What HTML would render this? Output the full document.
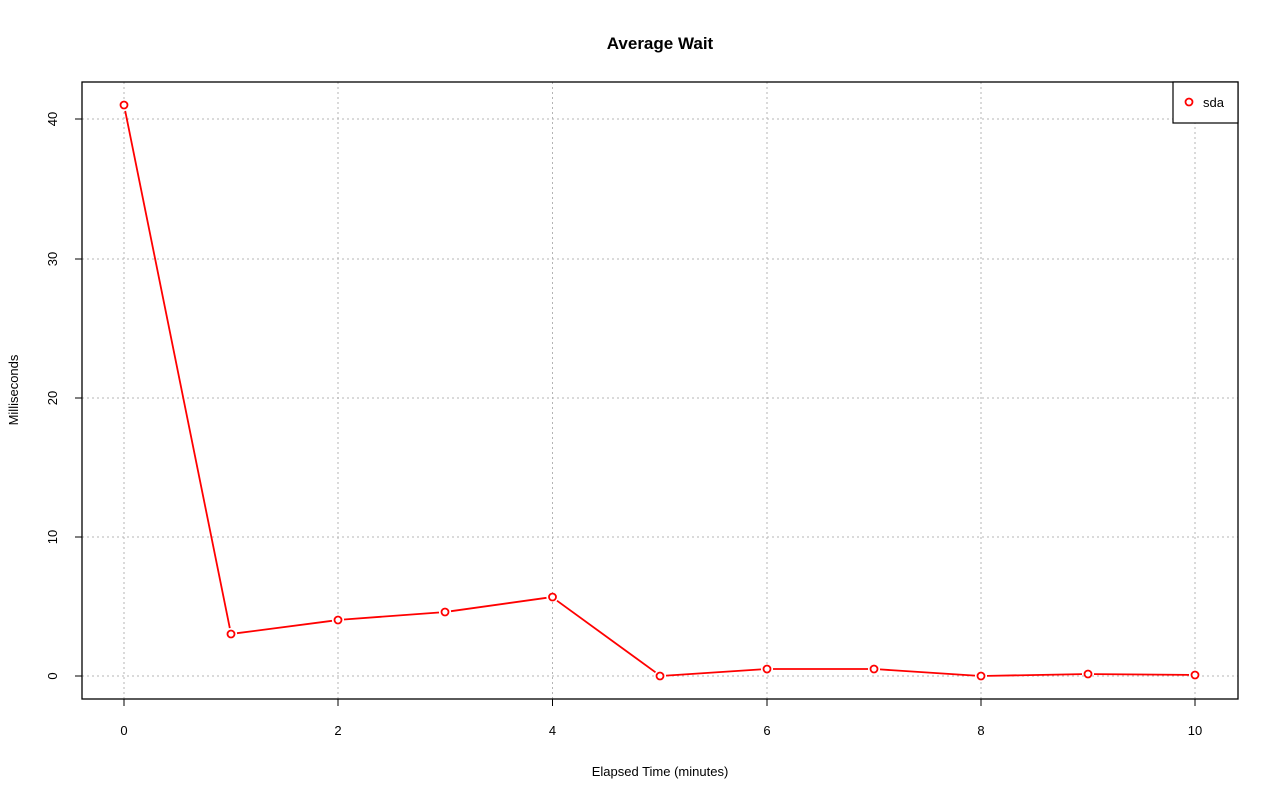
<!DOCTYPE html>
<html><head><meta charset="utf-8"><style>body{margin:0;background:#fff}svg{display:block}</style></head><body>
<svg width="1280" height="801" xmlns="http://www.w3.org/2000/svg" font-family="Liberation Sans, sans-serif">
<rect width="1280" height="801" fill="#fff"/>
<g stroke="#b4b4b4" stroke-dasharray="2,3" stroke-width="1">
<line x1="124" y1="82" x2="124" y2="699"/><line x1="338" y1="82" x2="338" y2="699"/><line x1="552.5" y1="82" x2="552.5" y2="699"/><line x1="767" y1="82" x2="767" y2="699"/><line x1="981" y1="82" x2="981" y2="699"/><line x1="1195" y1="82" x2="1195" y2="699"/>
<line x1="82" y1="676" x2="1238" y2="676"/><line x1="82" y1="537" x2="1238" y2="537"/><line x1="82" y1="398" x2="1238" y2="398"/><line x1="82" y1="259" x2="1238" y2="259"/><line x1="82" y1="119" x2="1238" y2="119"/>
</g>
<rect x="82" y="82" width="1156" height="617" fill="none" stroke="#000" stroke-width="1.3"/>
<g stroke="#000" stroke-width="1">
<line x1="124" y1="699" x2="1195" y2="699"/>
<line x1="124" y1="699" x2="124" y2="706"/><line x1="338" y1="699" x2="338" y2="706"/><line x1="552.5" y1="699" x2="552.5" y2="706"/><line x1="767" y1="699" x2="767" y2="706"/><line x1="981" y1="699" x2="981" y2="706"/><line x1="1195" y1="699" x2="1195" y2="706"/>
<line x1="82" y1="676" x2="82" y2="119"/>
<line x1="82" y1="676" x2="75" y2="676"/><line x1="82" y1="537" x2="75" y2="537"/><line x1="82" y1="398" x2="75" y2="398"/><line x1="82" y1="259" x2="75" y2="259"/><line x1="82" y1="119" x2="75" y2="119"/>
</g>
<g font-size="13" text-anchor="middle" fill="#000">
<text x="124" y="735">0</text><text x="338" y="735">2</text><text x="552.5" y="735">4</text><text x="767" y="735">6</text><text x="981" y="735">8</text><text x="1195" y="735">10</text>
<text transform="translate(57,676) rotate(-90)">0</text><text transform="translate(57,537) rotate(-90)">10</text><text transform="translate(57,398) rotate(-90)">20</text><text transform="translate(57,259) rotate(-90)">30</text><text transform="translate(57,119) rotate(-90)">40</text>
<text x="660" y="776">Elapsed Time (minutes)</text>
<text transform="translate(18,390) rotate(-90)">Milliseconds</text>
<text x="660" y="49" font-size="17" font-weight="bold">Average Wait</text>
</g>
<g stroke="#f00" stroke-width="1.8" fill="none">
<line x1="125.2" y1="110.9" x2="229.8" y2="628.1"/>
<line x1="237" y1="633.2" x2="332" y2="620.8"/>
<line x1="344" y1="619.5" x2="439" y2="612.5"/>
<line x1="451" y1="611.2" x2="546.5" y2="597.8"/>
<line x1="557" y1="600.7" x2="655.5" y2="672.3"/>
<line x1="666" y1="675.6" x2="761" y2="669.4"/>
<line x1="773" y1="669" x2="868" y2="669"/>
<line x1="880" y1="669.4" x2="975" y2="675.6"/>
<line x1="987" y1="675.9" x2="1082" y2="674.1"/>
<line x1="1094" y1="674.1" x2="1189" y2="674.9"/>
</g>
<g fill="#fff" stroke="#f00" stroke-width="1.8">
<circle cx="124" cy="105" r="3.5"/><circle cx="231" cy="634" r="3.5"/><circle cx="338" cy="620" r="3.5"/><circle cx="445" cy="612" r="3.5"/><circle cx="552.5" cy="597" r="3.5"/><circle cx="660" cy="676" r="3.5"/><circle cx="767" cy="669" r="3.5"/><circle cx="874" cy="669" r="3.5"/><circle cx="981" cy="676" r="3.5"/><circle cx="1088" cy="674" r="3.5"/><circle cx="1195" cy="675" r="3.5"/>
</g>
<rect x="1173" y="82" width="65" height="41" fill="#fff" stroke="#000" stroke-width="1.2"/>
<circle cx="1189" cy="102" r="3.5" fill="#fff" stroke="#f00" stroke-width="1.8"/>
<text x="1203" y="107" font-size="13">sda</text>
</svg>
</body></html>
